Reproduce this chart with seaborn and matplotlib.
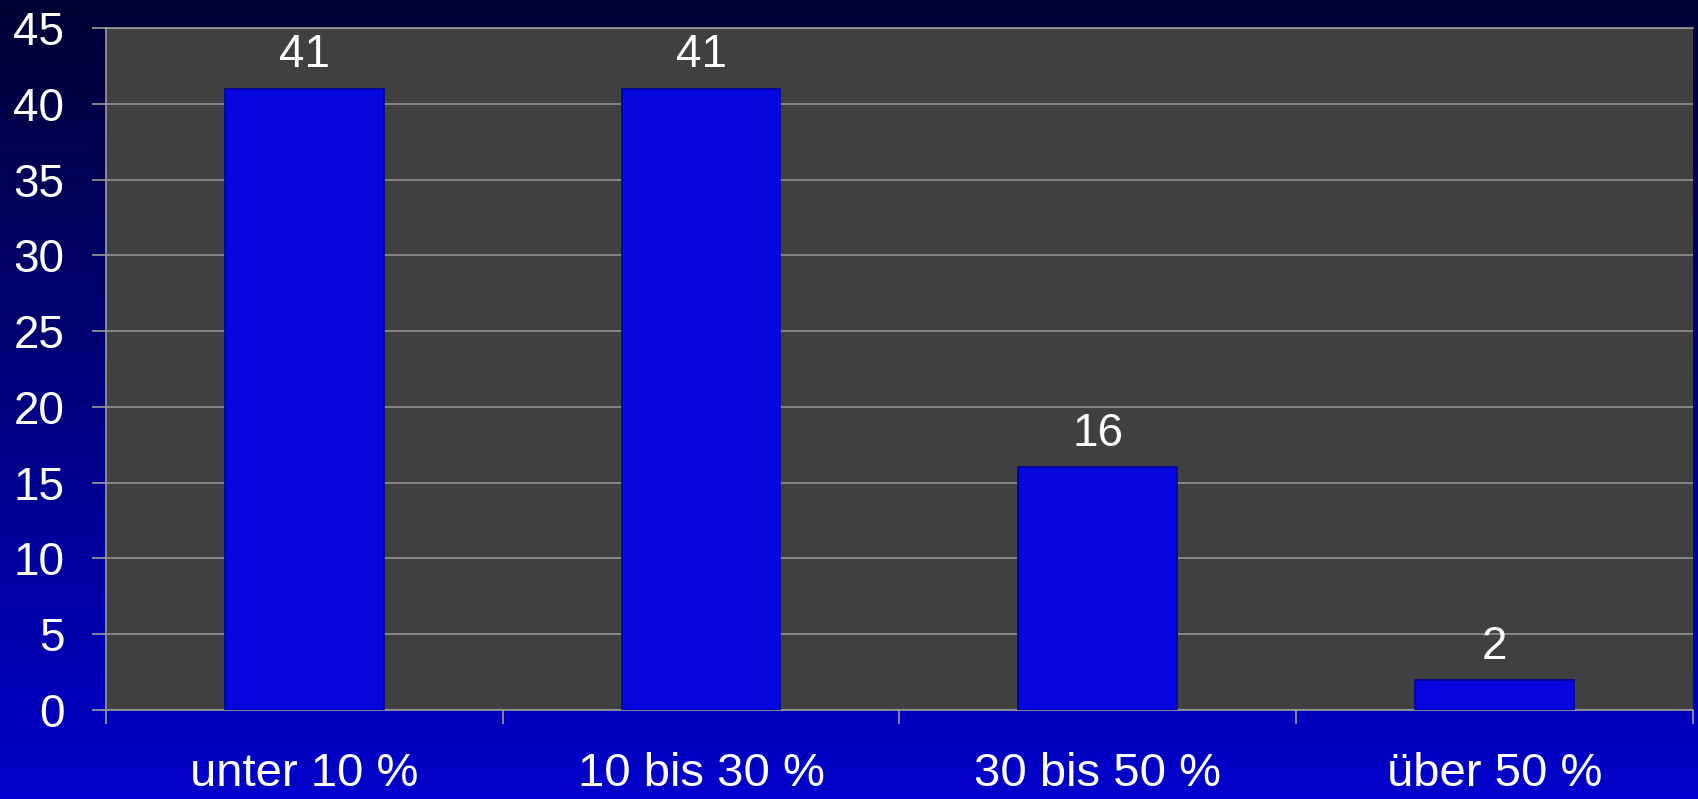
import matplotlib.pyplot as plt
import numpy as np
import pandas as pd
import seaborn as sns
from matplotlib.colors import LinearSegmentedColormap

categories = ["unter 10 %", "10 bis 30 %", "30 bis 50 %", "über 50 %"]
values = [41, 41, 16, 2]
y_ticks = [0, 5, 10, 15, 20, 25, 30, 35, 40, 45]

sns.set_style("white")
plt.rcParams["font.family"] = ["Liberation Sans", "DejaVu Sans"]

df = pd.DataFrame({"Kategorie": categories, "Anzahl": values})

fig = plt.figure(figsize=(16.98, 7.99), dpi=100)

# background gradient, dark navy at top to bright blue at bottom
bg = fig.add_axes([0, 0, 1, 1], zorder=0)
grad_cmap = LinearSegmentedColormap.from_list("bg", ["#000033", "#0000CC"])
bg.imshow(np.linspace(0, 1, 256).reshape(-1, 1), aspect="auto", cmap=grad_cmap,
          extent=[0, 1, 0, 1], origin="upper")
bg.set_axis_off()

ax = fig.add_axes([0.0624, 0.1114, 0.9346, 0.8536], zorder=1)
ax.set_facecolor("#404040")

sns.barplot(data=df, x="Kategorie", y="Anzahl", color="#0606DE", saturation=1,
            width=0.4, edgecolor="#0000A0", linewidth=1.2, ax=ax, zorder=3)

ax.set_ylim(0, 45)
ax.set_xlim(-0.5, len(categories) - 0.5)
ax.set_yticks(y_ticks)
ax.yaxis.grid(True, color="#9a9a9a", linewidth=1.1, zorder=0)
ax.set_axisbelow(True)

# tick marks sit between the categories
ax.set_xticks(np.arange(len(categories)))
ax.set_xticks(np.arange(len(categories) + 1) - 0.5, minor=True)
ax.tick_params(axis="x", which="major", length=0, pad=30, labelsize=34,
               labelcolor="white")
ax.tick_params(axis="x", which="minor", length=10, width=1.2, color="#9a9a9a",
               direction="out", bottom=True)
ax.tick_params(axis="y", length=10, width=1.2, color="#9a9a9a", direction="out",
               left=True, pad=20, labelsize=33, labelcolor="white")

for side in ["left", "bottom", "top"]:
    ax.spines[side].set_color("#9a9a9a")
    ax.spines[side].set_linewidth(1.2)
ax.spines["right"].set_visible(False)

ax.set_xlabel("")
ax.set_ylabel("")

ax.bar_label(ax.containers[0], labels=[str(v) for v in values], padding=8,
             color="white", fontsize=33)

plt.savefig("out.png", dpi=100)
plt.close()
